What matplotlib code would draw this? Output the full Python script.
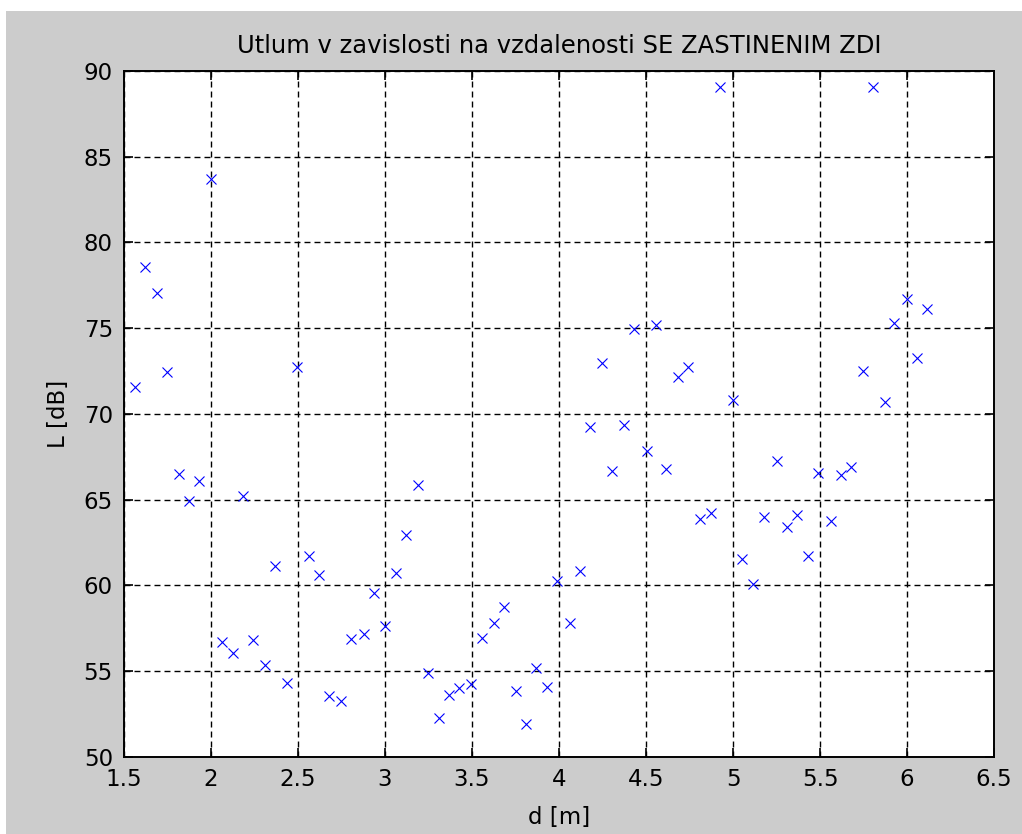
import numpy as np
import matplotlib
matplotlib.use("Agg")
import matplotlib.pyplot as plt
from matplotlib.patches import Rectangle

plt.rcParams['font.family'] = ['DejaVu Sans']
plt.rcParams['lines.scale_dashes'] = False

# measured points: distance [m] and attenuation [dB]
d = [1.562, 1.620, 1.691, 1.747, 1.816, 1.873, 1.931, 2.000, 2.062, 2.127,
     2.184, 2.242, 2.309, 2.370, 2.439, 2.495, 2.564, 2.622, 2.679, 2.748,
     2.806, 2.877, 2.934, 3.002, 3.063, 3.121, 3.188, 3.248, 3.310, 3.370,
     3.428, 3.497, 3.555, 3.626, 3.683, 3.750, 3.812, 3.865, 3.933, 3.990,
     4.063, 4.120, 4.178, 4.245, 4.303, 4.374, 4.431, 4.503, 4.560, 4.616,
     4.685, 4.744, 4.811, 4.873, 4.926, 4.998, 5.051, 5.116, 5.180, 5.251,
     5.308, 5.366, 5.433, 5.491, 5.565, 5.618, 5.679, 5.746, 5.804, 5.871,
     5.928, 6.000, 6.057, 6.115]
L = [71.59, 78.57, 77.05, 72.42, 66.49, 64.94, 66.10, 83.70, 56.71, 56.09,
     65.19, 56.80, 55.37, 61.12, 54.34, 72.75, 61.70, 60.64, 53.56, 53.27,
     56.90, 57.15, 59.57, 57.63, 60.74, 62.97, 65.87, 54.92, 52.26, 53.62,
     54.01, 54.24, 56.92, 57.83, 58.76, 53.86, 51.92, 55.17, 54.11, 60.25,
     57.83, 60.87, 69.26, 72.98, 66.69, 69.36, 74.98, 67.85, 75.21, 66.80,
     72.17, 72.75, 63.90, 64.23, 89.07, 70.81, 61.55, 60.06, 63.99, 67.27,
     63.41, 64.13, 61.70, 66.55, 63.78, 66.45, 66.90, 72.52, 89.07, 70.68,
     75.31, 76.73, 73.24, 76.15]

xticks = [1.5, 2, 2.5, 3, 3.5, 4, 4.5, 5, 5.5, 6, 6.5]
xticklabels = ["1.5", "2", "2.5", "3", "3.5", "4", "4.5", "5", "5.5", "6", "6.5"]
yticks = [50, 55, 60, 65, 70, 75, 80, 85, 90]

W, H = 1022, 834
fig = plt.figure(figsize=(W / 100, H / 100), dpi=100, facecolor="white")
fig.patches.append(Rectangle((6 / W, 0), 1 - 6 / W, 1 - 11 / H,
                             transform=fig.transFigure, facecolor="#cccccc",
                             edgecolor="none", zorder=-10))

ax = fig.add_axes([124 / W, 1 - 757 / H, (994 - 124) / W, (757 - 71) / H])
ax.set_facecolor("white")

ax.plot(d, L, linestyle="none", marker="x", color="#0000ff",
        markersize=7.2, markeredgewidth=0.8)

ax.set_xlim(1.5, 6.5)
ax.set_ylim(50, 90)
ax.set_xticks(xticks)
ax.set_xticklabels(xticklabels)
ax.set_yticks(yticks)

ax.grid(True, color="black", linestyle=(0, (4.3, 2.9)), linewidth=1.0)
ax.tick_params(direction="in", length=6.5, width=1.2, top=True, right=True,
               labelsize=16.5, colors="black", pad=8)
for s in ax.spines.values():
    s.set_linewidth(1.4)
    s.set_color("black")

ax.set_title("Utlum v zavislosti na vzdalenosti SE ZASTINENIM ZDI",
             fontsize=17.5, pad=13)
ax.set_xlabel("d [m]", fontsize=16.5, labelpad=11)
ax.set_ylabel("L [dB]", fontsize=16.5, labelpad=10)

fig.savefig("out.png", dpi=100, facecolor=fig.get_facecolor())
